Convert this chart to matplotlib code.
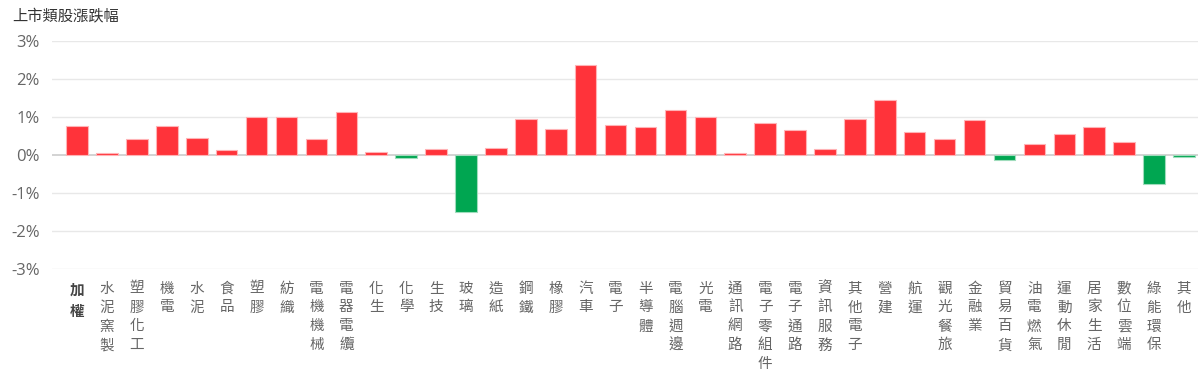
import numpy as np
import matplotlib
matplotlib.use('Agg')
import matplotlib.pyplot as plt

plt.rcParams['font.family'] = ['Noto Sans CJK TC', 'DejaVu Sans']

categories = ['加權', '水泥窯製', '塑膠化工', '機電', '水泥', '食品', '塑膠', '紡織',
              '電機機械', '電器電纜', '化生', '化學', '生技', '玻璃', '造紙', '鋼鐵',
              '橡膠', '汽車', '電子', '半導體', '電腦週邊', '光電', '通訊網路',
              '電子零組件', '電子通路', '資訊服務', '其他電子', '營建', '航運',
              '觀光餐旅', '金融業', '貿易百貨', '油電燃氣', '運動休閒', '居家生活',
              '數位雲端', '綠能環保', '其他']
changes = [0.76, 0.05, 0.43, 0.77, 0.44, 0.14, 0.99, 1.01,
           0.43, 1.14, 0.07, -0.08, 0.15, -1.51, 0.19, 0.94,
           0.68, 2.37, 0.78, 0.74, 1.19, 1.00, 0.05,
           0.85, 0.67, 0.16, 0.96, 1.46, 0.61,
           0.43, 0.91, -0.13, 0.28, 0.54, 0.73,
           0.33, -0.77, -0.05]
yticks = [-3, -2, -1, 0, 1, 2, 3]

up_color = '#ff333a'
down_color = '#00a651'

fig = plt.figure(figsize=(12, 3.82), dpi=100)
ax = fig.add_axes([52 / 1200, 1 - 269 / 382, 1146 / 1200, 228 / 382])

x = np.arange(len(categories))
vals = np.array(changes)
colors = [up_color if v >= 0 else down_color for v in vals]
edges = ['#ffb3b6' if v >= 0 else '#9fdcbc' for v in vals]
ax.bar(x, vals, width=0.72, color=colors, edgecolor=edges, linewidth=0.8, zorder=3)

ax.set_ylim(-3, 3)
ax.set_xlim(-0.84, 37.47)
ax.set_yticks(yticks)
ax.set_yticklabels([f'{t}%' for t in yticks], color='#666666', fontsize=12,
                   family=['Open Sans', 'DejaVu Sans'])
for t in yticks:
    ax.axhline(t, color='#cccccc' if t == 0 else '#e8e8e8', linewidth=1.2 if t == 0 else 1, zorder=1)

ax.set_xticks(x)
ax.set_xticklabels(['\n'.join(c) for c in categories], fontsize=10.5, color='#666666',
                   linespacing=1.45, va='top')
ax.get_xticklabels()[0].set_fontweight('bold')
ax.get_xticklabels()[0].set_color('#444444')
ax.tick_params(axis='both', length=0)
ax.tick_params(axis='x', pad=9)
ax.tick_params(axis='y', pad=9)
for s in ax.spines.values():
    s.set_visible(False)

fig.text(12 / 1200, 1 - 16 / 382, '上市類股漲跌幅', fontsize=11, color='#333333',
         va='center', ha='left')

fig.savefig('out.png', dpi=100)
